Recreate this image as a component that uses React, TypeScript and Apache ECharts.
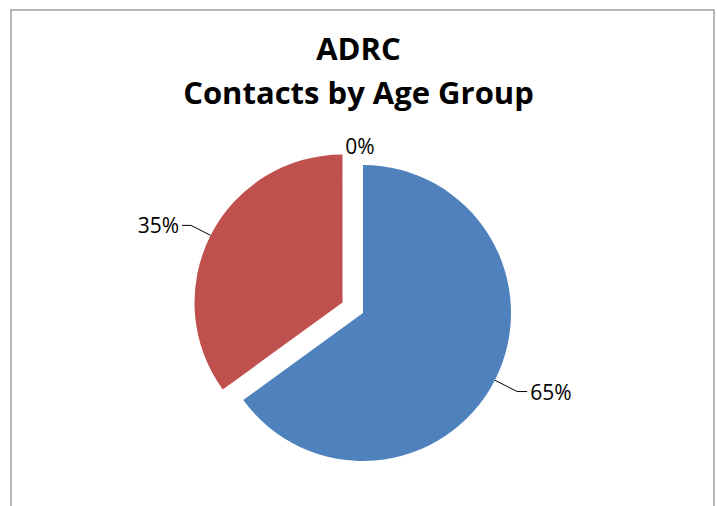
import React, { useEffect, useRef } from "react";
import * as echarts from "echarts";

const titleLines = ["ADRC", "Contacts by Age Group"];
const categories = ["Age 60+", "Under 60", "Unknown"];
const values = [65, 35, 0];
const colors = ["#4F81BD", "#C0504D", "#9BBB59"];
const explodedIndex = 1;

export default function App() {
  const ref = useRef<HTMLDivElement>(null);

  useEffect(() => {
    document.body.style.margin = "0";
    const chart = echarts.init(ref.current!, null, { renderer: "svg" });
    const lineLens = [
      { length: 25, length2: 10, show: true },
      { length: 22, length2: 9, show: true },
      { length: 19, length2: 0, show: false },
    ];
    chart.setOption({
      animation: false,
      backgroundColor: "#ffffff",
      title: {
        text: titleLines.join("\n"),
        left: "center",
        top: 21,
        textStyle: {
          fontFamily: "Open Sans",
          fontWeight: "bold",
          fontSize: 31,
          lineHeight: 44,
          color: "#000000",
        },
      },
      graphic: [
        {
          type: "rect",
          silent: true,
          shape: { x: 11, y: 10, width: 703, height: 530 },
          style: { fill: "none", stroke: "#a0a0a0", lineWidth: 1.5 },
        },
      ],
      series: [
        {
          type: "pie",
          center: [363, 313],
          radius: 148,
          startAngle: 90,
          clockwise: true,
          selectedMode: "single",
          selectedOffset: 23,
          avoidLabelOverlap: false,
          emphasis: { disabled: true },
          label: {
            show: true,
            position: "outside",
            fontFamily: "Open Sans",
            fontSize: 21,
            color: "#000000",
            distanceToLabelLine: 3,
            formatter: (p: any) => `${Math.round(p.percent)}%`,
          },
          labelLine: {
            show: true,
            lineStyle: { color: "#000000", width: 1 },
          },
          labelLayout: (p: any) => (p.dataIndex === 2 ? { align: "center" } : {}),
          data: categories.map((name, i) => ({
            name,
            value: values[i],
            selected: i === explodedIndex,
            itemStyle: { color: colors[i] },
            select: { itemStyle: { color: colors[i], borderWidth: 0 } },
            labelLine: {
              show: lineLens[i].show,
              length: lineLens[i].length,
              length2: lineLens[i].length2,
            },
          })),
        },
      ],
    });
    return () => chart.dispose();
  }, []);

  return (
    <div
      ref={ref}
      style={{ width: 717, height: 506, position: "fixed", left: 0, top: 0 }}
    />
  );
}
